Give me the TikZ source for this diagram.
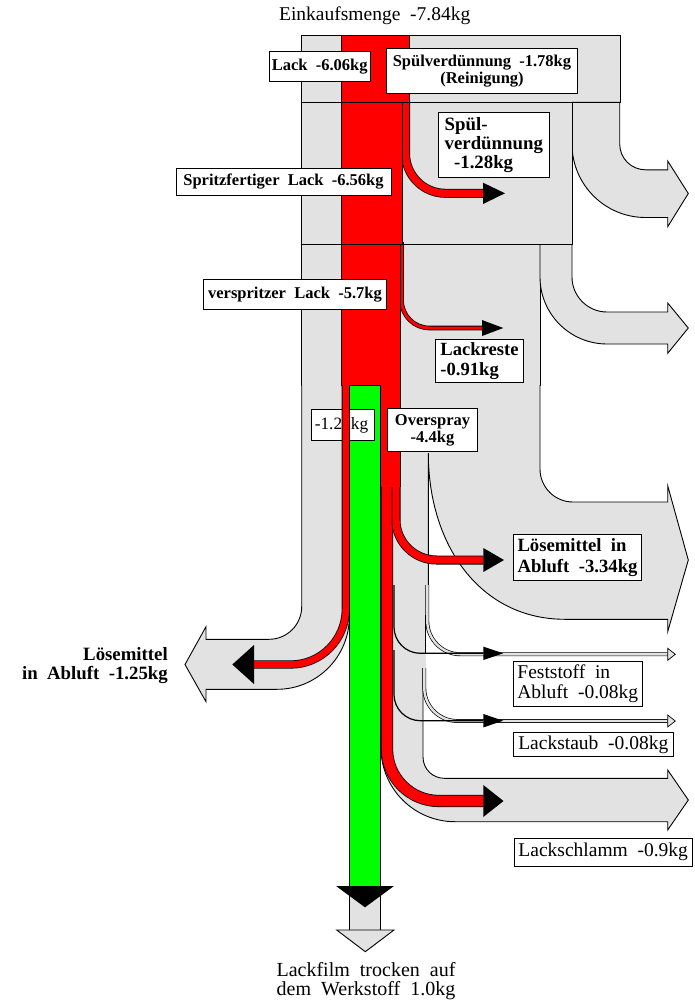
\documentclass[tikz,border=0pt]{standalone}
\usepackage{fontspec}
\setmainfont{Liberation Serif}
\definecolor{flowgray}{RGB}{226,226,226}
\definecolor{paintred}{RGB}{255,0,0}
\definecolor{filmgreen}{RGB}{0,255,0}
\newcommand\lblsize[2]{\fontsize{#1}{#2}\selectfont}

\begin{document}
\begin{tikzpicture}[x=1pt,y=-1pt,
  flow/.style={fill=flowgray,draw=black,line width=0.9pt},
  flowfill/.style={fill=flowgray,draw=none},
  outline/.style={draw=black,line width=0.9pt},
  redflow/.style={draw=black,line width=0.8pt,double=paintred},
  redbox/.style={fill=paintred,draw=black,line width=0.9pt},
  thinband/.style={draw=black,line width=0.7pt,double=flowgray,double distance=2.4pt},
  thinblack/.style={draw=black,line width=1.2pt},
  tip/.style={fill=black},
  lbl/.style={draw=black,fill=white,line width=0.9pt,inner sep=0pt}]
\useasboundingbox (0,0) rectangle (695,1002);

% ---- purchased quantity and first split ----
\filldraw[flow] (301.7,35.7) rectangle (620,102.3);
\filldraw[flow] (572,102.3) -- (572,144) .. controls (572,184.6) and (604.9,217.5) .. (645.5,217.5)
  -- (667.7,217.5) -- (667.7,226.7) -- (688.3,193.5) -- (667.7,161) -- (667.7,169.8) -- (645.5,169.8)
  .. controls (631.3,169.8) and (619.7,158.3) .. (619.7,144) -- (619.7,102.3) -- cycle;
\filldraw[flow] (301.7,102.3) rectangle (572,244.5);
\filldraw[flow] (301.7,244.5) rectangle (540,385);
\filldraw[flow] (540,244.5) -- (540,277) .. controls (540,314) and (570,344) .. (607,344)
  -- (667.7,344) -- (667.7,353.3) -- (688.3,328) -- (667.7,303) -- (667.7,312) -- (607,312)
  .. controls (587.7,312) and (572,296.3) .. (572,277) -- (572,244.5) -- cycle;

% ---- spray booth section: gray areas ----
\path[flowfill] (301.7,385) -- (349.3,385) -- (349.3,617) .. controls (349.3,656.9) and (316.9,689.3) .. (277,689.3)
  -- (206,689.3) -- (206,701.7) -- (185,664.5) -- (206,626.7) -- (206,639.3) -- (269,639.3)
  .. controls (287.1,639.3) and (301.7,624.7) .. (301.7,606.6) -- cycle;
\path[flowfill] (349.3,385) -- (540,385) -- (540,469) .. controls (540,487.2) and (554.8,502) .. (573,502)
  -- (667.7,502) -- (667.7,485.7) -- (688.3,560) -- (667.7,631.7) -- (667.7,619.3) -- (565,619.3)
  .. controls (480,619.3) and (428.3,545) .. (428.3,453) -- (428.3,625) -- (426,625) -- (426,668) -- (423,668)
  -- (423,757) .. controls (423,768.8) and (432.5,778.3) .. (444.3,778.3) -- (667.7,778.3) -- (667.7,770)
  -- (688.3,800) -- (667.7,830) -- (667.7,821.7) -- (455,821.7) .. controls (414.1,821.7) and (381,788.6) .. (381,747.7)
  -- (349.3,747.7) -- cycle;
\draw[outline] (301.7,385) -- (301.7,606.6) .. controls (301.7,624.7) and (287.1,639.3) .. (269,639.3)
  -- (206,639.3) -- (206,626.7) -- (185,664.5) -- (206,701.7) -- (206,689.3) -- (277,689.3)
  .. controls (316.9,689.3) and (349.3,656.9) .. (349.3,617);
\draw[outline] (540,385) -- (540,469) .. controls (540,487.2) and (554.8,502) .. (573,502)
  -- (667.7,502) -- (667.7,485.7) -- (688.3,560) -- (667.7,631.7) -- (667.7,619.3) -- (565,619.3)
  .. controls (480,619.3) and (428.3,545) .. (428.3,453) -- (428.3,600);
\draw[outline] (425.9,615) -- (425.9,653);
\draw[outline] (423,668) -- (423,757) .. controls (423,768.8) and (432.5,778.3) .. (444.3,778.3)
  -- (667.7,778.3) -- (667.7,770) -- (688.3,800) -- (667.7,830) -- (667.7,821.7) -- (455,821.7)
  .. controls (414.1,821.7) and (381,788.6) .. (381,747.7);
\filldraw[flow] (349.3,385) rectangle (380.7,930);
\filldraw[flow] (336.7,930) -- (394,930) -- (365.3,951.7) -- cycle;

% thin dust and solids streams
\draw[thinband] (427.3,585) -- (427.3,621) .. controls (427.3,639.4) and (442.2,654.3) .. (460.6,654.3) -- (667.7,654.3);
\filldraw[flow,line width=0.7pt] (667.7,648.3) -- (675.3,654.3) -- (667.7,660.3) -- cycle;
\draw[thinband] (424.3,668) -- (424.3,688) .. controls (424.3,706.2) and (439.1,721) .. (457.3,721) -- (667.7,721);
\filldraw[flow,line width=0.7pt] (667.7,715) -- (675.3,721) -- (667.7,727) -- cycle;

% ---- paint flows ----
\draw[redflow,double distance=7.4pt] (405.5,100) -- (405.5,153.3) .. controls (405.5,175.4) and (423.4,193.3) .. (445.5,193.3) -- (483,193.3);
\fill[tip] (483,182.7) -- (505,193.3) -- (483,204) -- cycle;
\draw[redflow,double distance=3pt] (401.5,242) -- (401.5,300) .. controls (401.5,315.5) and (414,328) .. (429.5,328) -- (482,328);
\fill[tip] (482,320) -- (503.3,328) -- (482,336) -- cycle;
\filldraw[redbox] (341.7,35.7) rectangle (409.3,102.3);
\filldraw[redbox] (341.7,102.3) rectangle (402,244.5);
\filldraw[redbox] (341.7,244.5) rectangle (400,385);

\draw[redflow,double distance=10.6pt] (387,385) -- (387,749) .. controls (387,777.7) and (410.3,801) .. (439,801) -- (483.3,801);
\fill[tip] (483.3,785) -- (503.5,801) -- (483.3,817) -- cycle;
\draw[redflow,double distance=7.4pt] (396,486) -- (396,520) .. controls (396,542.1) and (414.4,560) .. (436.5,560) -- (483.3,560);
\fill[tip] (483.3,548) -- (504,560) -- (483.3,572) -- cycle;
\fill[paintred] (380.7,385.4) rectangle (400,487);
\draw[outline] (400.2,385) -- (400.2,487);

\filldraw[fill=filmgreen,draw=black,line width=0.9pt] (349.3,385) rectangle (380.7,886);
\fill[tip] (336,886) -- (394,886) -- (365,907.3) -- cycle;

\draw[thinblack] (394,585) -- (394,627) .. controls (394,641.5) and (405.8,653.3) .. (420.3,653.3) -- (483.3,653.3);
\fill[tip] (483.3,646.6) -- (503.3,653.3) -- (483.3,660) -- cycle;
\draw[thinblack] (394,650) -- (394,694.4) .. controls (394,708.9) and (405.8,720.7) .. (420.3,720.7) -- (483.3,720.7);
\fill[tip] (483.3,714) -- (503.3,720.7) -- (483.3,727.4) -- cycle;

\node[lbl,minimum width=62.6pt,minimum height=31.7pt,font=\lblsize{17.3}{18}] (solvleftval) at (343,424.9) {\hspace*{-1.5pt}-1.25kg\hspace*{1.5pt}};

\draw[redflow,double distance=6.6pt] (345.8,385) -- (345.8,609) .. controls (345.8,639.4) and (321.2,664.5) .. (290.8,664.5) -- (254,664.5);
\fill[tip] (254,645) -- (232.3,664.5) -- (254,684) -- cycle;

% ---- labels ----
\node[font=\lblsize{19.5}{20},inner sep=0pt] (purchase) at (374.7,16) {Einkaufsmenge\ \ -7.84kg};
\node[lbl,minimum width=100.7pt,minimum height=30pt,font=\bfseries\lblsize{16.5}{17}] (lack) at (319.7,66.7) {Lack\ \ -6.06kg};
\node[lbl,minimum width=190.6pt,minimum height=45pt,align=center,font=\bfseries\lblsize{16.5}{16.7}] (rinse) at (482,70.8) {Spülverdünnung\ \ -1.78kg\\(Reinigung)};
\node[lbl,minimum width=111pt,minimum height=65.4pt,align=left,font=\bfseries\lblsize{18.8}{19}] (rinseout) at (493.8,145) {Spül-\\verdünnung\\\hspace*{0.5em}-1.28kg};
\node[lbl,minimum width=215pt,minimum height=27pt,font=\bfseries\lblsize{16.5}{17}] (ready) at (283.5,181.5) {Spritzfertiger\ \ Lack\ \ -6.56kg};
\node[lbl,minimum width=183.4pt,minimum height=30.3pt,font=\bfseries\lblsize{16.5}{17}] (sprayed) at (295,294.2) {verspritzer\ \ Lack\ \ -5.7kg};
\node[lbl,minimum width=87.6pt,minimum height=43.4pt,align=left,font=\bfseries\lblsize{18.6}{20}] (rest) at (479.5,361) {Lackreste\\-0.91kg};
\node[lbl,minimum width=90.4pt,minimum height=43.4pt,align=center,font=\bfseries\lblsize{16.5}{17}] (overspray) at (432.5,430) {Overspray\\-4.4kg};
\node[lbl,minimum width=128.4pt,minimum height=46.4pt,align=left,font=\bfseries\lblsize{18.7}{20.5}] (solvright) at (577.5,557.5) {Lösemittel\ \ in\\Abluft\ \ -3.34kg};
\node[lbl,minimum width=129pt,minimum height=45pt,align=left,font=\lblsize{19.5}{20}] (solids) at (577.8,684.2) {Feststoff\ \ in\\Abluft\ \ -0.08kg};
\node[lbl,minimum width=160pt,minimum height=24.4pt,font=\lblsize{19.5}{20}] (dust) at (593.3,744.5) {Lackstaub\ \ -0.08kg};
\node[lbl,minimum width=177.7pt,minimum height=27.7pt,font=\lblsize{19.5}{20}] (sludge) at (603.2,852.2) {Lackschlamm\ \ -0.9kg};
\node[font=\bfseries\lblsize{18.8}{19},align=right,anchor=east,inner sep=0pt] (solvleft) at (168,665.5) {Lösemittel\\in\ \ Abluft\ \ -1.25kg};
\node[font=\lblsize{20}{18.5},align=center,inner sep=0pt] (film) at (366,981) {Lackfilm\ \ trocken\ \ auf\\dem\ \ Werkstoff\ \ 1.0kg};
\end{tikzpicture}
\end{document}
